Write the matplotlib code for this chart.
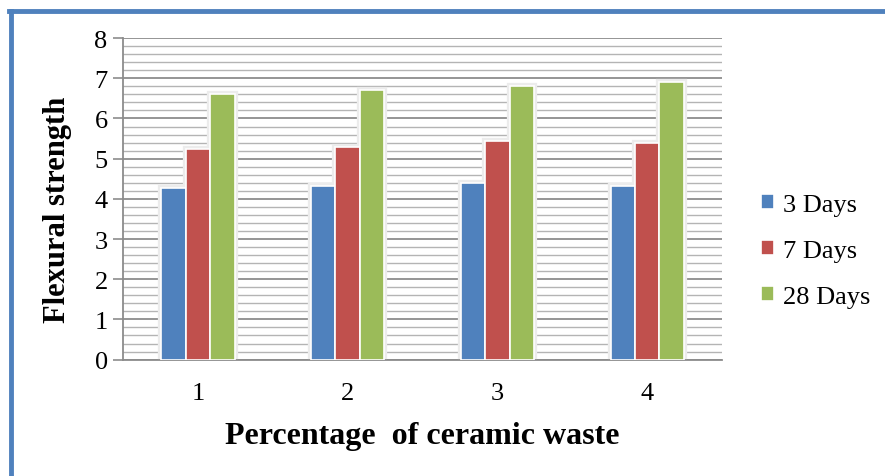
import numpy as np
import matplotlib
matplotlib.use("Agg")
import matplotlib.pyplot as plt
from matplotlib.ticker import MultipleLocator

plt.rcParams['font.family'] = ['Liberation Serif', 'DejaVu Serif']

categories = ['1', '2', '3', '4']
series = ['3 Days', '7 Days', '28 Days']
days3 = [4.28, 4.31, 4.40, 4.33]
days7 = [5.23, 5.29, 5.44, 5.39]
days28 = [6.62, 6.71, 6.80, 6.92]
colors = ['#4f81bd', '#c0504d', '#9bbb59']

fig = plt.figure(figsize=(8.85, 4.77), dpi=100)
ax = fig.add_axes([0.139, 0.244, 0.677, 0.674])

x = np.arange(len(categories))
w = 0.163
vals = [days3, days7, days28]

for k, (name, v) in enumerate(zip(series, vals)):
    # soft shadow around each bar
    ax.bar(x + (k - 1) * w, v, width=w, color='#ebebeb', edgecolor='#ececec',
           linewidth=4.5, zorder=2)
    ax.bar(x + (k - 1) * w, v, width=w, color=colors[k], edgecolor='white',
           linewidth=1.2, label=name, zorder=3)

ax.set_xlim(-0.5, 3.5)
ax.set_ylim(0, 8)
ax.yaxis.set_major_locator(MultipleLocator(1))
ax.yaxis.set_minor_locator(MultipleLocator(0.2))
ax.grid(which='major', axis='y', color='#8c8c8c', linewidth=1.3, zorder=0)
ax.grid(which='minor', axis='y', color='#b4b4b4', linewidth=1.0, zorder=0)
ax.set_axisbelow(True)

ax.set_xticks(x)
ax.set_xticklabels(categories)
ax.tick_params(axis='x', length=0, pad=16, labelsize=19)
ax.tick_params(axis='y', which='major', length=7, width=1.2, color='#8c8c8c',
               labelsize=19, pad=4)
ax.tick_params(axis='y', which='minor', length=0)

for s in ['top', 'right']:
    ax.spines[s].set_visible(False)
for s in ['left', 'bottom']:
    ax.spines[s].set_color('#8c8c8c')
    ax.spines[s].set_linewidth(1.3)

ax.set_ylabel('Flexural strength', fontsize=22, fontweight='bold')
ax.yaxis.set_label_coords(-0.085, 0.47)
ax.set_xlabel('Percentage  of ceramic waste', fontsize=23, fontweight='bold',
              labelpad=12)

leg = ax.legend(loc='center left', bbox_to_anchor=(1.025, 0.338), frameon=False,
                fontsize=19, handlelength=0.5, handleheight=0.5,
                handletextpad=0.35, labelspacing=0.9)

# blue frame lines along the top and left edges
fig.add_artist(plt.Line2D([0.012, 0.012], [0.0, 0.975], color='#4f81bd',
                          linewidth=3.5, transform=fig.transFigure))
fig.add_artist(plt.Line2D([0.010, 1.0], [0.975, 0.975], color='#4f81bd',
                          linewidth=3.5, transform=fig.transFigure))

fig.savefig('out.png', dpi=100)
